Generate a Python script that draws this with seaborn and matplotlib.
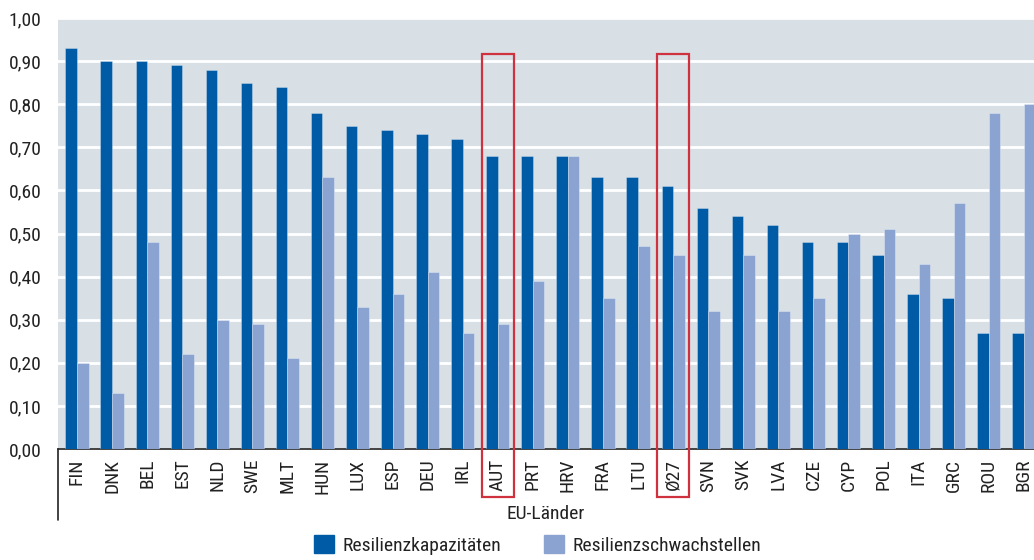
import matplotlib
matplotlib.use("Agg")
import matplotlib.pyplot as plt
from matplotlib.patches import Rectangle
import seaborn as sns
import pandas as pd

laender = ["FIN", "DNK", "BEL", "EST", "NLD", "SWE", "MLT", "HUN", "LUX", "ESP",
           "DEU", "IRL", "AUT", "PRT", "HRV", "FRA", "LTU", "Ø27", "SVN", "SVK",
           "LVA", "CZE", "CYP", "POL", "ITA", "GRC", "ROU", "BGR"]
kapazitaeten = [0.93, 0.90, 0.90, 0.89, 0.88, 0.85, 0.84, 0.78, 0.75, 0.74,
                0.73, 0.72, 0.68, 0.68, 0.68, 0.63, 0.63, 0.61, 0.56, 0.54,
                0.52, 0.48, 0.48, 0.45, 0.36, 0.35, 0.27, 0.27]
schwachstellen = [0.20, 0.13, 0.48, 0.22, 0.30, 0.29, 0.21, 0.63, 0.33, 0.36,
                  0.41, 0.27, 0.29, 0.39, 0.68, 0.35, 0.47, 0.45, 0.32, 0.45,
                  0.32, 0.35, 0.50, 0.51, 0.43, 0.57, 0.78, 0.80]
reihen = ["Resilienzkapazitäten", "Resilienzschwachstellen"]
hervorgehoben = ["AUT", "Ø27"]
y_ticks = [0.0, 0.1, 0.2, 0.3, 0.4, 0.5, 0.6, 0.7, 0.8, 0.9, 1.0]

dunkel = "#005BA6"
hell = "#8BA3D1"
hintergrund = "#D8E0E6"
rot = "#D0313F"
tinte = "#222222"
schrift = 14

df = pd.DataFrame({
    "Land": laender * 2,
    "Wert": kapazitaeten + schwachstellen,
    "Reihe": [reihen[0]] * len(laender) + [reihen[1]] * len(laender),
})

sns.set_theme(style="white")
plt.rcParams["font.family"] = ["Roboto Condensed", "Archivo Narrow", "DejaVu Sans"]
plt.rcParams["text.color"] = tinte

fig = plt.figure(figsize=(10.34, 5.6), dpi=100)
ax = fig.add_axes([58 / 1034, 111 / 560, 1 - 58 / 1034, (449 - 18) / 560])
ax.set_facecolor(hintergrund)

sns.barplot(data=df, x="Land", y="Wert", hue="Reihe", order=laender,
            hue_order=reihen, palette=[dunkel, hell], width=0.66,
            saturation=1, ax=ax, legend=False, zorder=3,
            edgecolor="#ffffff55", linewidth=0.6)

ax.set_xlim(-0.54, 27.29)
ax.set_ylim(0, 1.0)
ax.set_yticks(y_ticks)
ax.set_yticklabels([f"{v:.2f}".replace(".", ",") for v in y_ticks],
                   fontsize=schrift, color=tinte)
ax.yaxis.grid(True, color="white", linewidth=2, zorder=1)
ax.set_axisbelow(True)
ax.tick_params(axis="y", length=0, pad=12)
ax.tick_params(axis="x", length=0, pad=7, labelrotation=90)
for lbl in ax.get_xticklabels():
    lbl.set_fontsize(schrift)
    lbl.set_color(tinte)

for side in ["top", "right", "left"]:
    ax.spines[side].set_visible(False)
ax.spines["bottom"].set_color(tinte)
ax.spines["bottom"].set_linewidth(1.2)

# vertical rule below the zero line on the left
ax.plot([-0.54, -0.54], [0, -0.165], color=tinte, lw=1.2, clip_on=False)

ax.set_xlabel("EU-Länder", fontsize=schrift, color=tinte, labelpad=8)
ax.set_ylabel("")

# red frames around the highlighted categories
for name in hervorgehoben:
    i = laender.index(name)
    ax.add_patch(Rectangle((i - 0.45, -0.112), 0.9, 1.029, fill=False,
                           edgecolor=rot, linewidth=1.6, clip_on=False,
                           zorder=5))

handles = [Rectangle((0, 0), 1, 1, color=dunkel), Rectangle((0, 0), 1, 1, color=hell)]
fig.legend(handles, reihen, loc="center", bbox_to_anchor=(0.52, 0.027), ncol=2,
           frameon=False, fontsize=schrift, handlelength=1.0, handleheight=1.0,
           columnspacing=2.2, handletextpad=0.45)

fig.savefig("out.png", dpi=100)
